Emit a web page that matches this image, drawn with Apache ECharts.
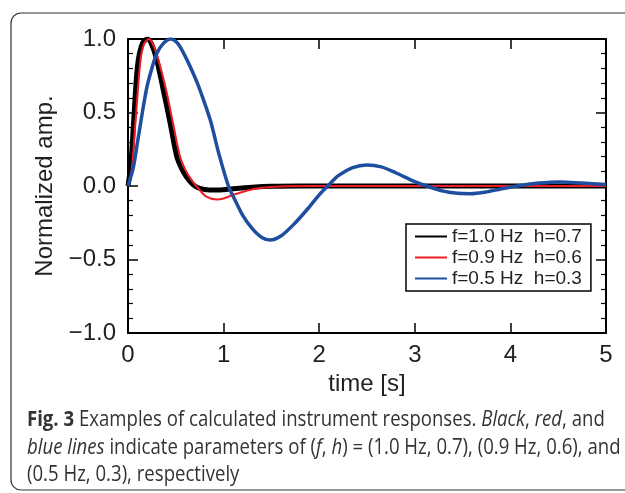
<!DOCTYPE html>
<html>
<head>
<meta charset="utf-8">
<script src="https://cdn.jsdelivr.net/npm/echarts@6/dist/echarts.min.js"></script>
<style>
html,body{margin:0;padding:0;background:#fff;}
#chart{width:625px;height:493px;}
</style>
</head>
<body>
<div id="chart"></div>
<script>
// Series names
const seriesNames = ['f=1.0 Hz  h=0.7', 'f=0.9 Hz  h=0.6', 'f=0.5 Hz  h=0.3'];

// Black: f=1.0 Hz, h=0.7  [time s, normalized amp]
const blackData = [
  [0,0],[0.03,0.15],[0.06,0.45],[0.1,0.82],[0.15,0.97],[0.205,1.0],[0.25,0.96],
  [0.3,0.86],[0.37,0.65],[0.44,0.43],[0.51,0.2],[0.56,0.12],[0.61,0.063],
  [0.68,0.01],[0.75,-0.016],[0.85,-0.027],[0.95,-0.027],[1.1,-0.018],
  [1.3,-0.008],[1.5,-0.002],[1.8,0],[2.5,0],[3.5,0],[5,0]
];
// Red: f=0.9 Hz, h=0.6
const redData = [
  [0,0],[0.04,0.12],[0.08,0.45],[0.13,0.85],[0.17,0.97],[0.22,1.0],[0.27,0.95],
  [0.33,0.83],[0.4,0.65],[0.47,0.43],[0.544,0.2],[0.6,0.11],[0.666,0.04],
  [0.74,-0.02],[0.82,-0.073],[0.93,-0.092],[1.0,-0.085],[1.1,-0.06],
  [1.25,-0.03],[1.4,-0.012],[1.6,-0.003],[1.9,0],[2.5,0],[3.5,0],[5,0]
];
// Blue: f=0.5 Hz, h=0.3
const blueData = [
  [0,0],[0.056,0.127],[0.1,0.3],[0.15,0.5],[0.2,0.68],[0.254,0.81],[0.3,0.9],
  [0.37,0.97],[0.446,1.0],[0.52,0.97],[0.6,0.88],[0.7,0.74],[0.753,0.653],
  [0.86,0.45],[0.95,0.22],[1.05,0.0],[1.1,-0.07],[1.2,-0.2],[1.3,-0.29],
  [1.4,-0.35],[1.485,-0.367],[1.6,-0.34],[1.75,-0.25],[1.9,-0.14],[2.0,-0.06],
  [2.09,0],[2.2,0.07],[2.35,0.125],[2.5,0.143],[2.65,0.13],[2.8,0.09],
  [3.0,0.03],[3.125,0],[3.3,-0.035],[3.45,-0.05],[3.58,-0.052],[3.75,-0.04],
  [3.9,-0.02],[4.07,0],[4.3,0.02],[4.52,0.028],[4.75,0.02],[5.0,0.01]
];

// Axis ranges and tick labels
const xTicks = [0,1,2,3,4,5];
const yTicks = [-1.0,-0.5,0.0,0.5,1.0];

const captionLines = [
  '{b|Fig. 3} Examples of calculated instrument responses. {i|Black}, {i|red}, and',
  '{i|blue lines} indicate parameters of ({i|f}, {i|h}) = (1.0 Hz, 0.7), (0.9 Hz, 0.6), and',
  '(0.5 Hz, 0.3), respectively'
];

const chart = echarts.init(document.getElementById('chart'), null, {renderer:'canvas'});
const axisFont = 'Liberation Sans';
const txtColor = '#231f20';
const capSize = 21;
const capScale = 0.885;

const capRich = {
  n:{fontSize:capSize, fontFamily:'Open Sans', fill:'#333'},
  b:{fontWeight:'bold', fontSize:capSize, fontFamily:'Open Sans', fill:'#333'},
  i:{fontStyle:'italic', fontSize:capSize, fontFamily:'Open Sans', fill:'#333'}
};
function capText(s){
  return s.replace(/(^|\})([^{}]+)(?=\{|$)/g, (m,p,t)=>p+'{n|'+t+'}');
}

const option = {
  animation:false,
  backgroundColor:'#fff',
  grid:{left:128, right:19, top:39, bottom:160, containLabel:false},
  legend:{
    orient:'vertical', left:406, top:224,
    padding:[3,9,3,8], itemGap:2, itemWidth:32, itemHeight:19,
    borderColor:'#000', borderWidth:1.5, backgroundColor:'#fff',
    textStyle:{fontFamily:axisFont, fontSize:19, color:txtColor},
    itemStyle:{opacity:0, borderWidth:0},
    lineStyle:{width:2, opacity:1},
    data:seriesNames
  },
  xAxis:[{
    type:'value', min:xTicks[0], max:xTicks[xTicks.length-1], interval:1,
    position:'bottom',
    axisLine:{show:true, onZero:false, lineStyle:{color:'#000', width:2}},
    axisTick:{show:true, inside:true, length:10, lineStyle:{color:'#000', width:1.5}},
    axisLabel:{margin:10, fontFamily:axisFont, fontSize:24, color:txtColor},
    splitLine:{show:false},
    name:'time [s]', nameLocation:'middle', nameGap:38,
    nameTextStyle:{fontFamily:axisFont, fontSize:24, color:txtColor}
  },{
    type:'value', min:xTicks[0], max:xTicks[xTicks.length-1], interval:1,
    position:'top',
    axisLine:{show:true, onZero:false, lineStyle:{color:'#000', width:2}},
    axisTick:{show:true, inside:true, length:10, lineStyle:{color:'#000', width:1.5}},
    axisLabel:{show:false}, splitLine:{show:false}
  }],
  yAxis:[{
    type:'value', min:yTicks[0], max:yTicks[yTicks.length-1], interval:0.5,
    position:'left',
    axisLine:{show:true, onZero:false, lineStyle:{color:'#000', width:2}},
    axisTick:{show:true, inside:true, length:10, lineStyle:{color:'#000', width:1.5}},
    minorTick:{show:true, splitNumber:5, length:5, lineStyle:{color:'#000', width:1.2}},
    axisLabel:{margin:12, fontFamily:axisFont, fontSize:24, color:txtColor,
      formatter:v=>v.toFixed(1).replace('-','\u2212')},
    splitLine:{show:false}, minorSplitLine:{show:false},
    name:'Normalized amp.', nameLocation:'middle', nameGap:70,
    nameTextStyle:{fontFamily:axisFont, fontSize:24, color:txtColor}
  },{
    type:'value', min:yTicks[0], max:yTicks[yTicks.length-1], interval:0.5,
    position:'right',
    axisLine:{show:true, onZero:false, lineStyle:{color:'#000', width:2}},
    axisTick:{show:true, inside:true, length:10, lineStyle:{color:'#000', width:1.5}},
    minorTick:{show:true, splitNumber:5, length:5, lineStyle:{color:'#000', width:1.2}},
    axisLabel:{show:false}, splitLine:{show:false}, minorSplitLine:{show:false}
  }],
  series:[
    {name:seriesNames[0], type:'line', data:blackData, smooth:0.3, symbol:'none',
     color:'#000', lineStyle:{color:'#000', width:5}, z:2},
    {name:seriesNames[1], type:'line', data:redData, smooth:0.3, symbol:'none',
     color:'#ee1c24', lineStyle:{color:'#ee1c24', width:2}, z:3},
    {name:seriesNames[2], type:'line', data:blueData, smooth:0.3, symbol:'none',
     color:'#1f4ea1', lineStyle:{color:'#1f4ea1', width:3.5}, z:4}
  ],
  graphic:[
    {type:'rect', shape:{x:11, y:13, width:700, height:477, r:10},
     style:{fill:'none', stroke:'#333', lineWidth:1.2}, silent:true, z:-1},
    {type:'text', x:27, y:420, scaleX:capScale,
     style:{text:capText(captionLines[0]), rich:capRich, fontFamily:'Open Sans', fontSize:capSize,
       fill:'#333', verticalAlign:'middle'}},
    {type:'text', x:27, y:448, scaleX:capScale,
     style:{text:capText(captionLines[1]), rich:capRich, fontFamily:'Open Sans', fontSize:capSize,
       fill:'#333', verticalAlign:'middle'}},
    {type:'text', x:27, y:475, scaleX:capScale,
     style:{text:capText(captionLines[2]), rich:capRich, fontFamily:'Open Sans', fontSize:capSize,
       fill:'#333', verticalAlign:'middle'}}
  ]
};
chart.setOption(option);
</script>
</body>
</html>
